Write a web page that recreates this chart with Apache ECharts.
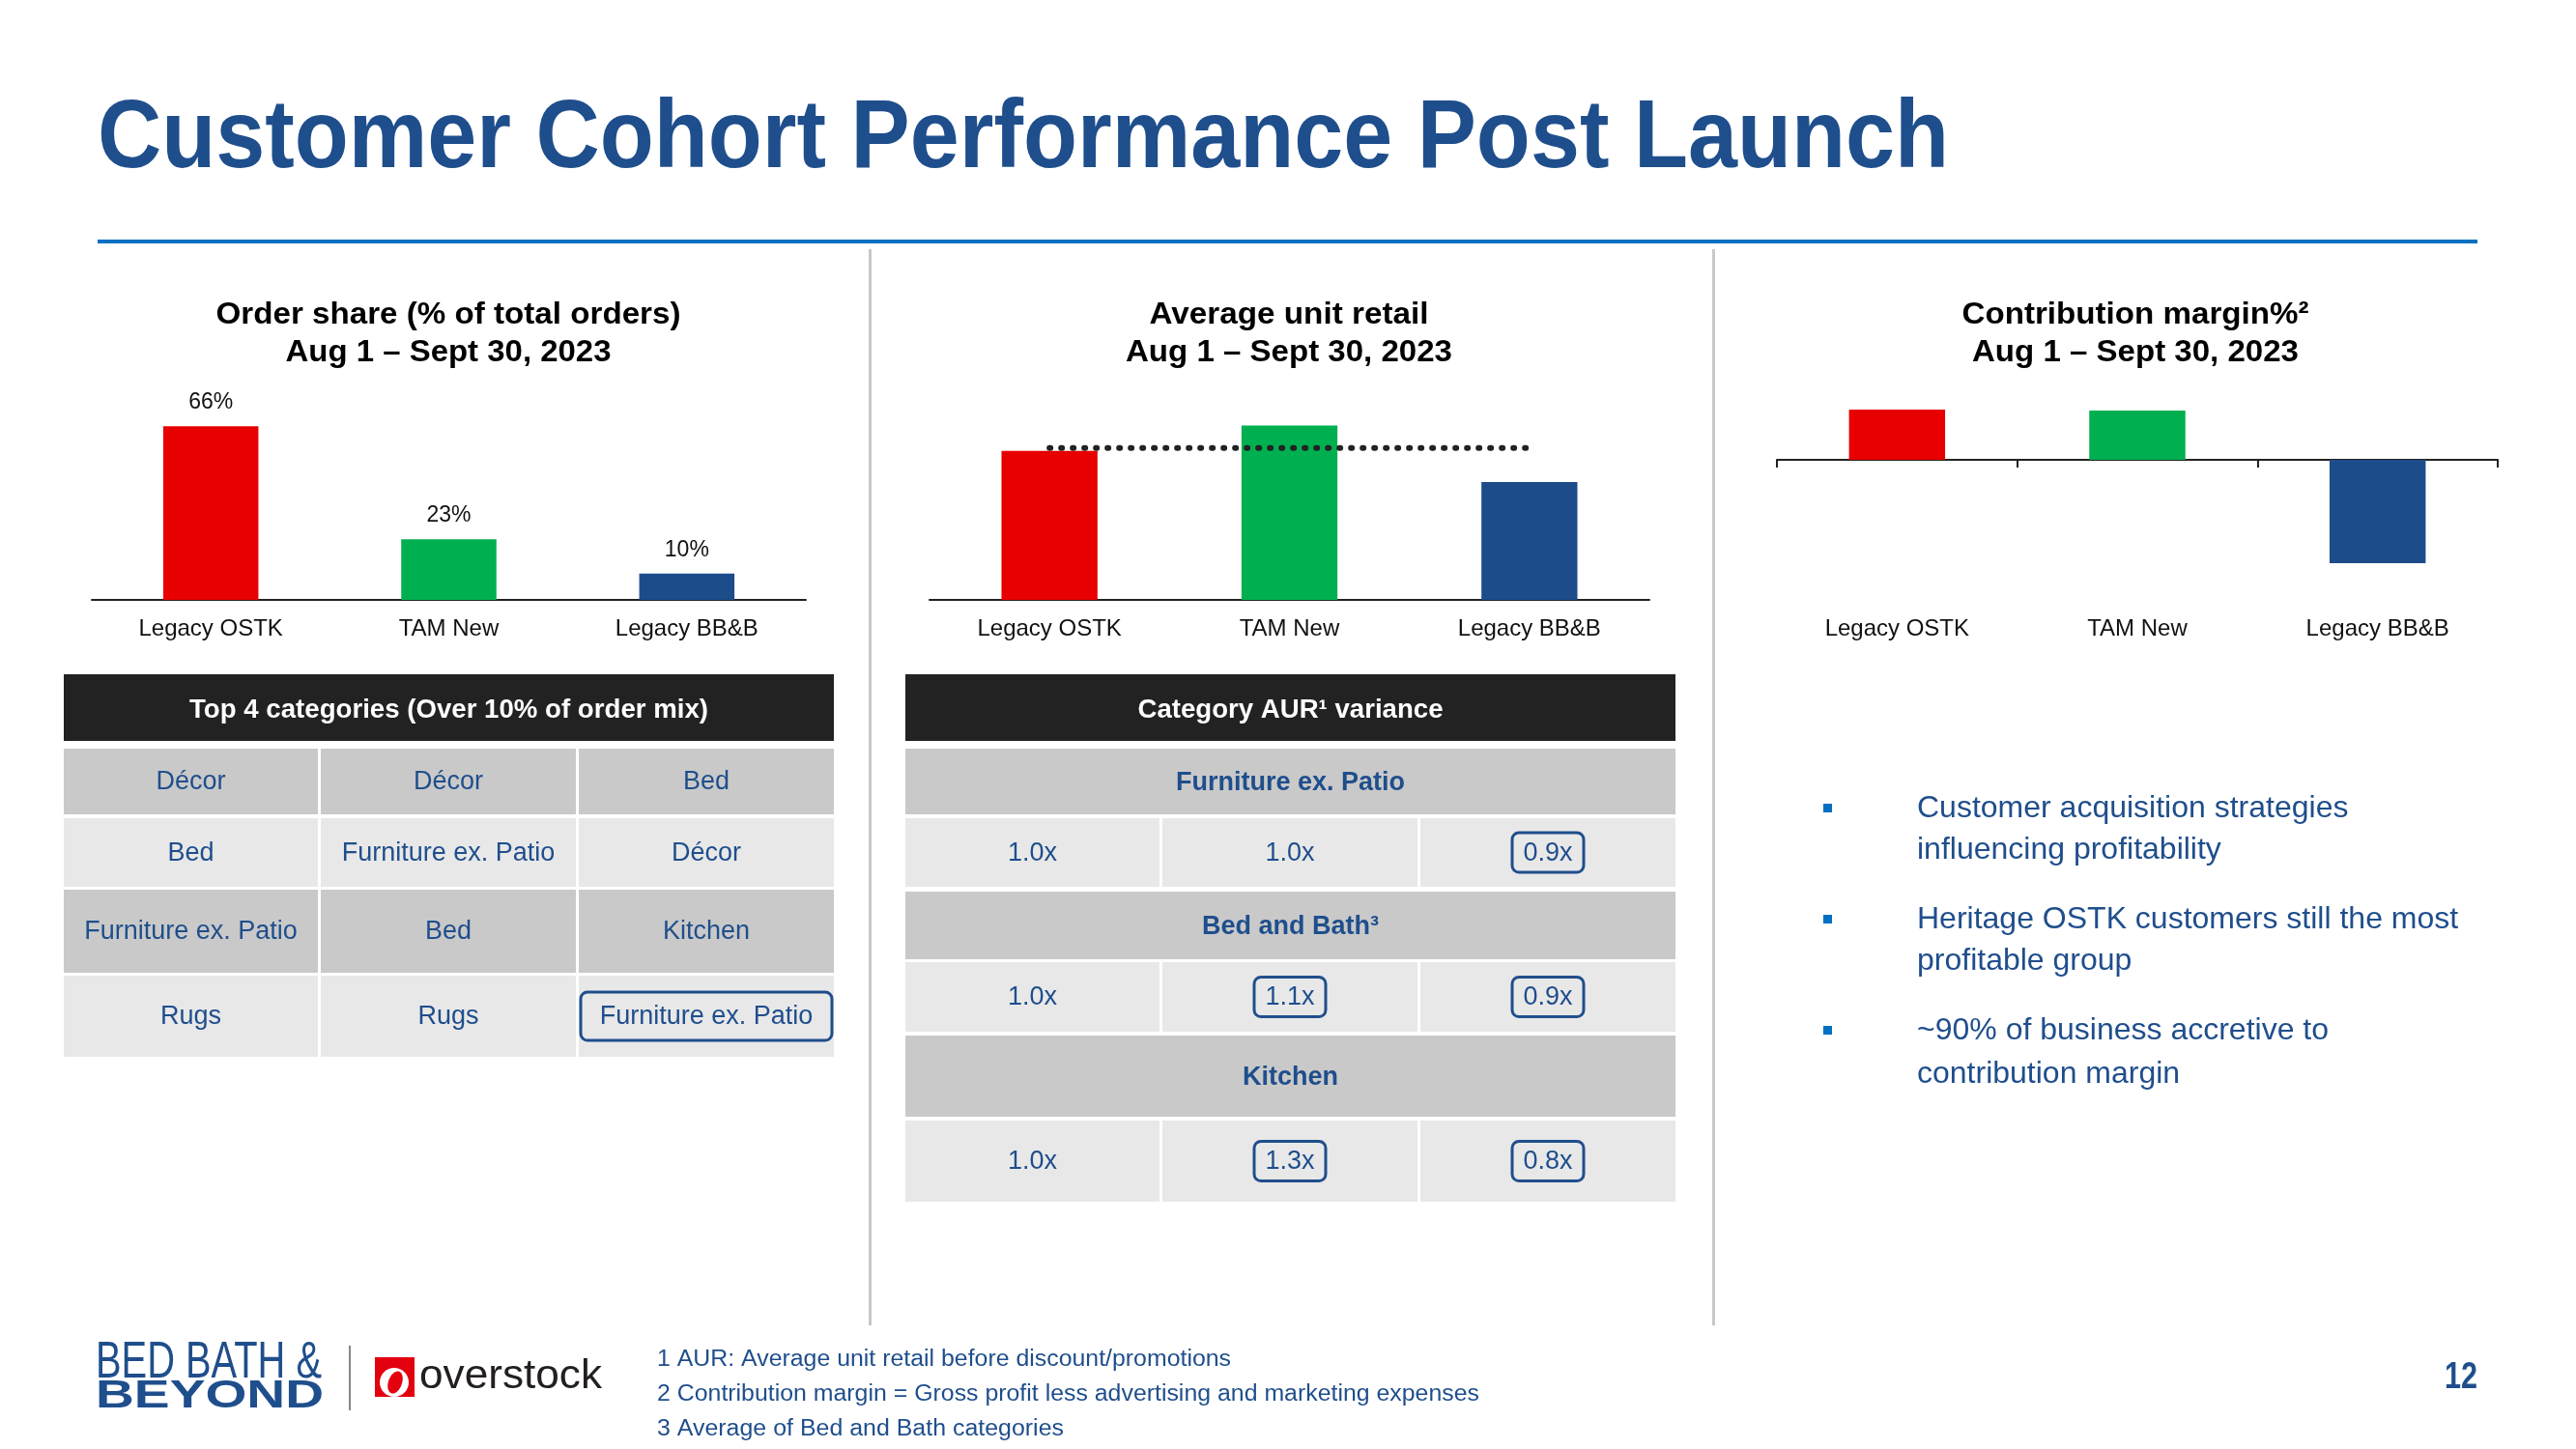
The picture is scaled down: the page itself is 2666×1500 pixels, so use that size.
<!DOCTYPE html>
<html><head><meta charset="utf-8">
<script src="https://cdn.jsdelivr.net/npm/echarts@6/dist/echarts.min.js"></script>
<style>html,body{margin:0;padding:0;background:#fff}#c{width:2666px;height:1500px}</style>
</head><body><div id="c"></div><script>
// ---------- data ----------
const cohorts = ['Legacy OSTK', 'TAM New', 'Legacy BB&B'];
const cohortColors = ['#E80000', '#00B050', '#1C4D8A'];
const orderShare = [66, 23, 10];
const aurIndex = [1.0, 1.17, 0.79];
const aurAverage = [1.02, 1.02, 1.02];
const contributionMargin = [5.2, 5.1, -10.7];
const pageTitle = 'Customer Cohort Performance Post Launch';
const chartTitles = [
  ['Order share (% of total orders)', 'Aug 1 \u2013 Sept 30, 2023'],
  ['Average unit retail', 'Aug 1 \u2013 Sept 30, 2023'],
  ['Contribution margin%\u00B2', 'Aug 1 \u2013 Sept 30, 2023']
];
const topCatHeader = 'Top 4 categories (Over 10% of order mix)';
const topCategories = [
  ['D\u00E9cor', 'D\u00E9cor', 'Bed'],
  ['Bed', 'Furniture ex. Patio', 'D\u00E9cor'],
  ['Furniture ex. Patio', 'Bed', 'Kitchen'],
  ['Rugs', 'Rugs', 'Furniture ex. Patio']
];
const topCatBoxed = [[0, 0, 0], [0, 0, 0], [0, 0, 0], [0, 0, 1]];
const aurHeader = 'Category AUR\u00B9 variance';
const aurSections = ['Furniture ex. Patio', 'Bed and Bath\u00B3', 'Kitchen'];
const aurVariance = [['1.0x', '1.0x', '0.9x'], ['1.0x', '1.1x', '0.9x'], ['1.0x', '1.3x', '0.8x']];
const aurBoxed = [[0, 0, 1], [0, 1, 1], [0, 1, 1]];
const bullets = [
  ['Customer acquisition strategies', 'influencing profitability'],
  ['Heritage OSTK customers still the most', 'profitable group'],
  ['~90% of business accretive to', 'contribution margin']
];
const footnotes = [
  '1 AUR: Average unit retail before discount/promotions',
  '2 Contribution margin = Gross profit less advertising and marketing expenses',
  '3 Average of Bed and Bath categories'
];
const pageNumber = '12';

// ---------- layout ----------
const BLUE = '#1F4E8C';
const FONT = '"Liberation Sans", Arial, sans-serif';
const NARROW = '"Liberation Sans Narrow", "Liberation Sans", Arial, sans-serif';
const DARK = '#C9C9C9', LIGHT = '#E8E8E8', HEAD = '#222222';
const t1 = { cols: [[66, 329], [332, 596], [599, 863]], header: [698, 767],
  rows: [[775, 843], [847, 918], [921, 1007], [1010, 1094]] };
const t2 = { cols: [[937, 1200], [1203, 1467], [1470, 1734]], header: [698, 767],
  sec: [[775, 843], [923, 993], [1072, 1156]], val: [[847, 918], [996, 1068], [1160, 1244]] };
const chartCenters = [464, 1334, 2210];
const titleWidths = [[481, 337], [289, 338], [359, 338]];
const footWidths = [594, 851, 421];

const mctx = document.createElement('canvas').getContext('2d');
function measure(text, font) { mctx.font = font; return mctx.measureText(text).width; }
function T(text, x, y, o) {
  o = o || {};
  const size = o.size || 26, weight = o.weight || 'normal', family = o.family || FONT;
  const font = weight + ' ' + size + 'px ' + family;
  const al = o.align || 'center', va = o.va || 'middle';
  const el = { type: 'text', x: x, y: y, silent: true, z: 10,
    style: { text: text, x: 0, y: 0, font: font, fill: o.color || '#000',
      textAlign: al, align: al, textVerticalAlign: va, verticalAlign: va } };
  if (o.fitWidth) el.scaleX = o.fitWidth / measure(text, font);
  return el;
}
function R(x, y, w, h, fill, extra) {
  return Object.assign({ type: 'rect', silent: true, z: 1, shape: { x: x, y: y, width: w, height: h }, style: { fill: fill } }, extra || {});
}
function Box(x, y, w, h) {
  return { type: 'rect', silent: true, z: 11, shape: { x: x, y: y, width: w, height: h, r: 7 },
    style: { fill: 'none', stroke: BLUE, lineWidth: 3 } };
}

const g = [];
// title + rule + separators
g.push(T(pageTitle, 101, 145, { size: 100, weight: 'bold', color: BLUE, align: 'left', fitWidth: 1916 }));
g.push(R(101, 248, 2463, 4, '#0070C0'));
g.push(R(899, 258, 3, 1114, '#C8C8C8'));
g.push(R(1772, 258, 3, 1114, '#C8C8C8'));
// chart titles
chartTitles.forEach(function (lines, i) {
  g.push(T(lines[0], chartCenters[i], 326, { size: 32, weight: 'bold', fitWidth: titleWidths[i][0] }));
  g.push(T(lines[1], chartCenters[i], 365, { size: 32, weight: 'bold', fitWidth: titleWidths[i][1] }));
});
// table 1
g.push(R(t1.cols[0][0], t1.header[0], t1.cols[2][1] - t1.cols[0][0], t1.header[1] - t1.header[0], HEAD));
g.push(T(topCatHeader, (t1.cols[0][0] + t1.cols[2][1]) / 2, 736, { size: 27, weight: 'bold', color: '#fff', fitWidth: 537 }));
topCategories.forEach(function (row, r) {
  const ry = t1.rows[r];
  row.forEach(function (txt, c) {
    const cx = t1.cols[c];
    g.push(R(cx[0], ry[0], cx[1] - cx[0], ry[1] - ry[0], r % 2 === 0 ? DARK : LIGHT));
    const mid = (ry[0] + ry[1]) / 2;
    g.push(T(txt, (cx[0] + cx[1]) / 2, mid + 1, { size: 27, color: BLUE }));
    if (topCatBoxed[r][c]) g.push(Box(cx[0] + 2, mid - 25, cx[1] - cx[0] - 4, 50));
  });
});
// table 2
g.push(R(t2.cols[0][0], t2.header[0], t2.cols[2][1] - t2.cols[0][0], t2.header[1] - t2.header[0], HEAD));
g.push(T(aurHeader, (t2.cols[0][0] + t2.cols[2][1]) / 2, 736, { size: 27, weight: 'bold', color: '#fff', fitWidth: 316 }));
aurSections.forEach(function (sec, s) {
  const sy = t2.sec[s], vy = t2.val[s];
  g.push(R(t2.cols[0][0], sy[0], t2.cols[2][1] - t2.cols[0][0], sy[1] - sy[0], DARK));
  g.push(T(sec, (t2.cols[0][0] + t2.cols[2][1]) / 2, (sy[0] + sy[1]) / 2 + 2, { size: 27, weight: 'bold', color: BLUE }));
  aurVariance[s].forEach(function (v, c) {
    const cx = t2.cols[c];
    g.push(R(cx[0], vy[0], cx[1] - cx[0], vy[1] - vy[0], LIGHT));
    const mx = (cx[0] + cx[1]) / 2, my = (vy[0] + vy[1]) / 2;
    g.push(T(v, mx, my + 1, { size: 27, color: BLUE }));
    if (aurBoxed[s][c]) g.push(Box(mx - 37, my - 20.5, 74, 41));
  });
});
// bullets
const bulletY = [[837, 880], [952, 995], [1067, 1112]];
bullets.forEach(function (lines, i) {
  g.push(R(1887, bulletY[i][0] - 5, 9, 9, '#0070C0'));
  lines.forEach(function (ln, j) {
    g.push(T(ln, 1984, bulletY[i][j], { size: 32, color: BLUE, align: 'left' }));
  });
});
// footer
g.push(T('BED BATH &', 99, 1411, { size: 54, family: NARROW, color: BLUE, align: 'left', fitWidth: 234 }));
g.push(T('BEYOND', 99, 1446, { size: 40, weight: 'bold', color: BLUE, align: 'left', fitWidth: 236 }));
g.push(R(361, 1393, 2, 67, '#888'));
g.push(R(388, 1405, 41, 41, '#E3000F', { z: 5 }));
g.push({ type: 'ellipse', silent: true, z: 6, shape: { cx: 408, cy: 1431, rx: 15, ry: 15 }, style: { fill: '#fff' } });
g.push({ type: 'ellipse', silent: true, z: 7, x: 409, y: 1431, rotation: -0.35, shape: { cx: 0, cy: 0, rx: 7, ry: 12 }, style: { fill: '#E3000F' } });
g.push(R(384, 1446, 50, 6, '#fff', { z: 8 }));
g.push(T('overstock', 434, 1425, { size: 43, color: '#231F20', align: 'left', fitWidth: 189 }));
footnotes.forEach(function (f, i) {
  g.push(T(f, 680, 1408 + 36 * i, { size: 23, color: BLUE, align: 'left', fitWidth: footWidths[i] }));
});
g.push(T(pageNumber, 2547, 1427, { size: 38, weight: 'bold', family: NARROW, color: BLUE, fitWidth: 34 }));

// ---------- chart ----------
const labelStyle = { fontFamily: FONT, fontSize: 24, color: '#111', margin: 18, interval: 0 };
const baseLine = { lineStyle: { color: '#222', width: 2 } };
function coloured(arr) { return arr.map(function (v, i) { return { value: v, itemStyle: { color: cohortColors[i] } }; }); }

const chart = echarts.init(document.getElementById('c'), null, { width: 2666, height: 1500 });
chart.setOption({
  backgroundColor: '#fff',
  animation: false,
  grid: [
    { left: 95, top: 403, width: 739, height: 218, outerBoundsMode: 'none', containLabel: false },
    { left: 962, top: 405, width: 745, height: 216, outerBoundsMode: 'none', containLabel: false },
    { left: 1839, top: 396, width: 746, height: 225, outerBoundsMode: 'none', containLabel: false }
  ],
  xAxis: [
    { gridIndex: 0, type: 'category', data: cohorts, axisLine: baseLine, axisTick: { show: false }, axisLabel: labelStyle },
    { gridIndex: 1, type: 'category', data: cohorts, axisLine: baseLine, axisTick: { show: false }, axisLabel: labelStyle },
    { gridIndex: 2, type: 'category', data: cohorts, position: 'bottom',
      axisLine: { onZero: true, lineStyle: { color: '#222', width: 2 } },
      axisTick: { show: true, length: 8, interval: 0, lineStyle: { color: '#222', width: 2 } },
      axisLabel: { show: false } },
    { gridIndex: 2, type: 'category', data: cohorts, position: 'bottom',
      axisLine: { show: false, onZero: false }, axisTick: { show: false }, axisLabel: labelStyle }
  ],
  yAxis: [
    { gridIndex: 0, type: 'value', min: 0, max: 80, show: false, splitLine: { show: false } },
    { gridIndex: 1, type: 'value', min: 0, max: 1.4, show: false, splitLine: { show: false } },
    { gridIndex: 2, type: 'value', min: -14.5, max: 8, show: false, splitLine: { show: false } }
  ],
  series: [
    { type: 'bar', xAxisIndex: 0, yAxisIndex: 0, barWidth: '40%', data: coloured(orderShare),
      label: { show: true, position: 'top', distance: 13, formatter: '{c}%', fontFamily: FONT, fontSize: 23, color: '#111' } },
    { type: 'bar', xAxisIndex: 1, yAxisIndex: 1, barWidth: '40%', data: coloured(aurIndex) },
    { type: 'line', xAxisIndex: 1, yAxisIndex: 1, data: aurAverage, symbol: 'none', z: 5,
      lineStyle: { color: '#222', width: 6, type: [1, 11], cap: 'round' } },
    { type: 'bar', xAxisIndex: 2, yAxisIndex: 2, barWidth: '40%', data: coloured(contributionMargin) }
  ],
  graphic: { elements: g }
});
</script></body></html>
